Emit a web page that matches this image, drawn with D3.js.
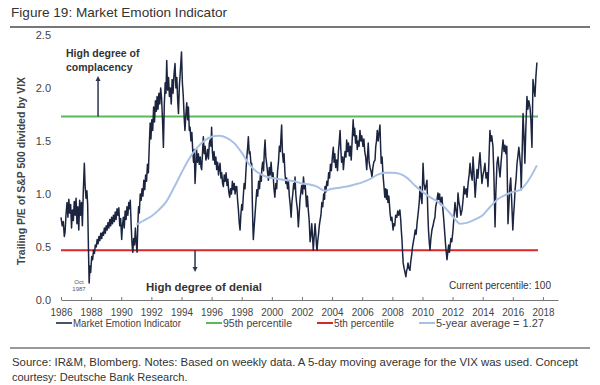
<!DOCTYPE html>
<html>
<head>
<meta charset="utf-8">
<script src="https://cdn.jsdelivr.net/npm/d3@7"></script>
<style>
    body { margin: 0; background: #fff; }
    svg { display: block; font-family: 'Liberation Sans', Arial, sans-serif; }
    .axis text { fill: #444; font-size: 11px; }
    .axis path, .axis line { stroke: #777; }
</style>
</head>
<body>
<svg class="chart" width="600" height="385"></svg>
<script>
// Weekly-ish readings of the indicator (decimal years / values)
var emotionDates = [
    1986.00, 1986.08, 1986.15, 1986.22, 1986.27, 1986.33, 1986.40, 1986.46, 1986.52, 1986.58, 1986.64, 1986.70, 1986.76, 1986.82, 1986.88, 1986.94,
    1987.00, 1987.06, 1987.12, 1987.18, 1987.24, 1987.30, 1987.36, 1987.42, 1987.48, 1987.55, 1987.60, 1987.66, 1987.72, 1987.77, 1987.82, 1987.87, 1987.92, 1987.97,
    1988.04, 1988.10, 1988.16, 1988.22, 1988.28, 1988.34, 1988.40, 1988.46, 1988.52, 1988.58, 1988.64, 1988.70, 1988.76, 1988.82, 1988.88, 1988.94,
    1989.00, 1989.06, 1989.12, 1989.18, 1989.24, 1989.30, 1989.36, 1989.42, 1989.48, 1989.54, 1989.60, 1989.66, 1989.72, 1989.78, 1989.84, 1989.90, 1989.96,
    1990.03, 1990.08, 1990.14, 1990.20, 1990.26, 1990.32, 1990.38, 1990.44, 1990.50, 1990.56, 1990.60, 1990.66, 1990.72, 1990.77, 1990.82, 1990.88, 1990.94, 1990.99,
    1991.05, 1991.10, 1991.15, 1991.20, 1991.26, 1991.32, 1991.38, 1991.44, 1991.50, 1991.56, 1991.62, 1991.68, 1991.74, 1991.80, 1991.86, 1991.92, 1991.97,
    1992.03, 1992.09, 1992.15, 1992.21, 1992.27, 1992.33, 1992.38, 1992.44, 1992.50, 1992.56, 1992.62, 1992.68, 1992.74, 1992.80, 1992.86, 1992.92, 1992.97,
    1993.02, 1993.08, 1993.14, 1993.20, 1993.26, 1993.32, 1993.38, 1993.44, 1993.50, 1993.57, 1993.63, 1993.69, 1993.75, 1993.80, 1993.86, 1993.92,
    1994.00, 1994.06, 1994.12, 1994.18, 1994.23, 1994.29, 1994.35, 1994.41, 1994.46, 1994.52, 1994.57, 1994.63, 1994.69, 1994.75, 1994.80, 1994.85, 1994.90, 1994.95,
    1995.00, 1995.06, 1995.12, 1995.18, 1995.24, 1995.30, 1995.34, 1995.40, 1995.45, 1995.51, 1995.57, 1995.62, 1995.67, 1995.73, 1995.79, 1995.85, 1995.90, 1995.96,
    1996.00, 1996.05, 1996.10, 1996.16, 1996.22, 1996.28, 1996.34, 1996.40, 1996.46, 1996.51, 1996.56, 1996.62, 1996.67, 1996.73, 1996.78, 1996.84, 1996.90, 1996.96,
    1997.02, 1997.08, 1997.14, 1997.20, 1997.26, 1997.32, 1997.38, 1997.44, 1997.50, 1997.56, 1997.62, 1997.67, 1997.72, 1997.78, 1997.84, 1997.89, 1997.94,
    1998.00, 1998.05, 1998.10, 1998.16, 1998.22, 1998.28, 1998.34, 1998.40, 1998.44, 1998.50, 1998.55, 1998.61, 1998.66, 1998.70, 1998.74, 1998.77, 1998.82, 1998.88, 1998.94,
    1999.00, 1999.06, 1999.12, 1999.18, 1999.24, 1999.30, 1999.33, 1999.39, 1999.45, 1999.50, 1999.55, 1999.60, 1999.66, 1999.72, 1999.77, 1999.83, 1999.89, 1999.95,
    2000.02, 2000.08, 2000.14, 2000.20, 2000.26, 2000.32, 2000.38, 2000.44, 2000.50, 2000.56, 2000.61, 2000.65, 2000.70, 2000.76, 2000.81, 2000.87, 2000.93, 2000.98,
    2001.04, 2001.10, 2001.16, 2001.22, 2001.28, 2001.33, 2001.39, 2001.45, 2001.50, 2001.54, 2001.59, 2001.64, 2001.70, 2001.76, 2001.81, 2001.87, 2001.93, 2001.98,
    2002.04, 2002.10, 2002.16, 2002.22, 2002.27, 2002.30, 2002.36, 2002.42, 2002.48, 2002.54, 2002.60, 2002.65, 2002.70, 2002.75, 2002.80, 2002.87, 2002.92, 2002.97,
    2003.00, 2003.05, 2003.10, 2003.15, 2003.20, 2003.26, 2003.32, 2003.38, 2003.44, 2003.50, 2003.53, 2003.59, 2003.65, 2003.71, 2003.77, 2003.83, 2003.89, 2003.95,
    2004.02, 2004.08, 2004.13, 2004.18, 2004.24, 2004.30, 2004.36, 2004.42, 2004.47, 2004.53, 2004.58, 2004.63, 2004.70, 2004.75, 2004.80, 2004.86, 2004.92, 2004.97,
    2005.03, 2005.09, 2005.15, 2005.21, 2005.27, 2005.33, 2005.40, 2005.45, 2005.50, 2005.56, 2005.62, 2005.67, 2005.73, 2005.79, 2005.85, 2005.91, 2005.97,
    2006.05, 2006.11, 2006.17, 2006.23, 2006.30, 2006.35, 2006.40, 2006.46, 2006.52, 2006.58, 2006.65, 2006.71, 2006.77, 2006.85, 2006.90, 2006.95,
    2007.00, 2007.06, 2007.12, 2007.18, 2007.22, 2007.26, 2007.32, 2007.38, 2007.44, 2007.50, 2007.56, 2007.61, 2007.65, 2007.71, 2007.77, 2007.82, 2007.85, 2007.91, 2007.97,
    2008.05, 2008.10, 2008.16, 2008.22, 2008.30, 2008.36, 2008.42, 2008.50, 2008.56, 2008.60, 2008.64, 2008.68, 2008.72, 2008.78, 2008.84, 2008.90, 2008.95,
    2009.00, 2009.04, 2009.10, 2009.17, 2009.22, 2009.28, 2009.34, 2009.40, 2009.46, 2009.52, 2009.58, 2009.64, 2009.70, 2009.76, 2009.80, 2009.84, 2009.90, 2009.97,
    2010.04, 2010.10, 2010.17, 2010.24, 2010.30, 2010.35, 2010.40, 2010.45, 2010.50, 2010.56, 2010.63, 2010.70, 2010.77, 2010.83, 2010.88, 2010.94,
    2011.03, 2011.08, 2011.14, 2011.20, 2011.25, 2011.30, 2011.36, 2011.42, 2011.47, 2011.50, 2011.56, 2011.63, 2011.68, 2011.74, 2011.79, 2011.83, 2011.89, 2011.95,
    2012.03, 2012.09, 2012.16, 2012.22, 2012.30, 2012.36, 2012.42, 2012.48, 2012.55, 2012.63, 2012.70, 2012.76, 2012.82, 2012.90, 2012.96,
    2013.03, 2013.10, 2013.16, 2013.22, 2013.30, 2013.36, 2013.42, 2013.50, 2013.56, 2013.62, 2013.68, 2013.75, 2013.82, 2013.88, 2013.95,
    2014.02, 2014.08, 2014.15, 2014.22, 2014.29, 2014.35, 2014.41, 2014.48, 2014.54, 2014.60, 2014.68, 2014.74, 2014.78, 2014.82, 2014.87, 2014.95,
    2015.02, 2015.08, 2015.15, 2015.22, 2015.28, 2015.35, 2015.42, 2015.48, 2015.54, 2015.60, 2015.64, 2015.68, 2015.74, 2015.80, 2015.86, 2015.92,
    2016.00, 2016.05, 2016.10, 2016.15, 2016.22, 2016.28, 2016.34, 2016.40, 2016.46, 2016.52, 2016.56, 2016.62, 2016.68, 2016.74, 2016.80, 2016.86, 2016.94,
    2017.00, 2017.06, 2017.14, 2017.20, 2017.27, 2017.34, 2017.40, 2017.47, 2017.53, 2017.60
];
var emotionValues = [
    0.78, 0.70, 0.74, 0.60, 0.64, 0.80, 0.92, 0.78, 0.95, 0.82, 0.90, 0.68, 0.85, 0.75, 0.93, 0.80,
    0.96, 0.72, 0.88, 0.66, 0.94, 0.80, 0.92, 0.70, 1.02, 1.29, 1.08, 0.96, 1.03, 0.90, 0.50, 0.16, 0.32, 0.26,
    0.41, 0.38, 0.47, 0.44, 0.52, 0.50, 0.57, 0.53, 0.60, 0.56, 0.63, 0.58, 0.64, 0.61, 0.68, 0.63,
    0.70, 0.66, 0.73, 0.68, 0.76, 0.70, 0.78, 0.72, 0.80, 0.74, 0.83, 0.76, 0.86, 0.80, 0.87, 0.70, 0.77,
    0.57, 0.70, 0.78, 0.68, 0.84, 0.76, 0.88, 0.80, 0.92, 0.86, 0.94, 0.70, 0.52, 0.45, 0.58, 0.52, 0.68, 0.55,
    0.45, 0.70, 0.88, 0.82, 1.00, 0.94, 1.05, 0.98, 1.13, 1.04, 1.18, 1.12, 1.28, 1.20, 1.45, 1.67, 1.52,
    1.70, 1.60, 1.82, 1.68, 1.88, 1.78, 1.92, 1.80, 1.95, 1.85, 2.00, 1.90, 1.70, 1.44, 1.85, 2.05, 1.95,
    2.26, 1.98, 2.10, 1.92, 2.00, 1.85, 2.08, 1.95, 2.12, 2.23, 2.00, 2.10, 1.88, 1.76, 2.02, 2.15,
    2.34, 2.05, 1.92, 1.72, 1.60, 1.75, 1.86, 1.70, 1.82, 1.60, 1.63, 1.50, 1.58, 1.40, 1.30, 1.42, 1.10, 1.25,
    1.42, 1.30, 1.38, 1.28, 1.35, 1.25, 1.23, 1.40, 1.54, 1.38, 1.45, 1.32, 1.35, 1.42, 1.33, 1.48, 1.51, 1.45,
    1.63, 1.40, 1.32, 1.40, 1.28, 1.35, 1.23, 1.30, 1.18, 1.25, 1.29, 1.15, 1.20, 1.10, 1.07, 1.18, 1.12, 1.20,
    1.08, 1.14, 1.02, 0.97, 1.05, 1.00, 1.12, 1.04, 1.10, 1.00, 1.07, 1.07, 0.95, 0.85, 0.72, 0.66, 0.80,
    0.90, 0.85, 0.97, 1.10, 1.05, 1.22, 1.35, 1.45, 1.54, 1.38, 1.40, 1.29, 1.29, 0.95, 0.70, 0.57, 0.68, 0.80, 0.92,
    1.04, 0.98, 1.12, 1.05, 1.18, 1.12, 1.23, 1.30, 1.22, 1.40, 1.51, 1.35, 1.28, 1.20, 1.13, 1.25, 1.18, 1.30,
    1.15, 1.20, 1.05, 0.97, 1.10, 1.05, 1.22, 1.30, 1.45, 1.40, 1.55, 1.65, 1.40, 1.30, 1.38, 1.20, 1.10, 1.15,
    1.05, 1.12, 0.98, 0.90, 0.78, 0.92, 1.00, 1.10, 1.05, 1.16, 1.00, 0.92, 0.85, 0.69, 0.80, 0.95, 1.02, 1.08,
    1.00, 1.16, 1.05, 1.08, 0.95, 0.88, 0.98, 0.85, 0.75, 0.55, 0.62, 0.72, 0.60, 0.47, 0.58, 0.72, 0.62, 0.50,
    0.47, 0.56, 0.62, 0.70, 0.75, 0.80, 0.92, 0.88, 1.00, 0.95, 1.07, 1.02, 1.12, 1.08, 1.20, 1.15, 1.28, 1.22,
    1.35, 1.44, 1.30, 1.38, 1.25, 1.32, 1.22, 1.40, 1.48, 1.60, 1.42, 1.30, 1.35, 1.23, 1.32, 1.40, 1.35, 1.51,
    1.40, 1.48, 1.36, 1.45, 1.32, 1.50, 1.70, 1.55, 1.62, 1.48, 1.55, 1.42, 1.50, 1.45, 1.60, 1.50, 1.55,
    1.45, 1.52, 1.40, 1.35, 1.23, 1.35, 1.48, 1.30, 1.25, 1.22, 1.16, 1.25, 1.30, 1.32, 1.45, 1.50,
    1.60, 1.50, 1.58, 1.65, 1.45, 1.29, 1.35, 1.18, 1.08, 0.97, 1.05, 0.95, 1.04, 0.92, 0.98, 0.88, 0.82, 0.75, 0.78,
    0.66, 0.72, 0.70, 0.80, 0.78, 0.84, 0.80, 0.85, 0.75, 0.65, 0.57, 0.45, 0.35, 0.30, 0.26, 0.22, 0.28,
    0.30, 0.35, 0.30, 0.28, 0.36, 0.42, 0.50, 0.55, 0.60, 0.66, 0.62, 0.72, 0.80, 0.88, 0.95, 1.07, 0.98, 0.91,
    1.29, 1.10, 1.04, 1.08, 1.13, 0.85, 0.66, 0.55, 0.47, 0.58, 0.66, 0.70, 0.75, 0.78, 0.88, 0.92,
    1.01, 0.95, 1.00, 0.90, 0.96, 0.97, 0.85, 0.75, 0.65, 0.59, 0.48, 0.38, 0.45, 0.52, 0.45, 0.50, 0.58, 0.55,
    0.66, 0.78, 0.92, 0.85, 0.78, 1.01, 0.92, 0.88, 0.80, 0.85, 0.95, 1.07, 1.00, 1.05, 0.97,
    1.10, 1.18, 1.29, 1.20, 1.13, 1.35, 1.20, 0.97, 1.10, 1.23, 1.15, 1.28, 1.39, 1.25, 1.10,
    1.18, 1.22, 1.29, 1.15, 1.20, 1.07, 1.30, 1.60, 1.50, 1.55, 1.45, 1.20, 0.95, 0.69, 1.00, 1.29,
    1.35, 1.25, 1.16, 1.30, 1.40, 1.51, 1.40, 1.46, 1.38, 1.45, 1.10, 0.72, 0.90, 1.07, 1.15, 0.95,
    0.66, 0.80, 0.90, 1.04, 1.15, 1.29, 1.36, 1.44, 1.35, 1.25, 1.04, 1.40, 1.76, 1.55, 1.29, 1.60, 1.92,
    1.80, 1.88, 1.82, 1.70, 1.44, 2.08, 2.00, 1.92, 2.10, 2.24
];

// 5-year average
var avgDates = [1991.0, 1991.5, 1992.0, 1992.5, 1993.0, 1993.5, 1994.0, 1994.5, 1995.0, 1995.5, 1996.0, 1996.5, 1997.0, 1997.5,
    1998.0, 1998.5, 1999.0, 1999.5, 2000.0, 2000.5, 2001.0, 2001.5, 2002.0, 2002.5, 2003.0, 2003.5, 2004.0, 2004.5,
    2005.0, 2005.5, 2006.0, 2006.5, 2007.0, 2007.5, 2008.0, 2008.5, 2009.0, 2009.5, 2010.0, 2010.5, 2011.0, 2011.5,
    2012.0, 2012.5, 2013.0, 2013.5, 2014.0, 2014.5, 2015.0, 2015.5, 2016.0, 2016.5, 2017.0, 2017.6];
var avgValues = [0.71, 0.75, 0.79, 0.85, 0.93, 1.06, 1.20, 1.33, 1.43, 1.50, 1.54, 1.55, 1.53, 1.48,
    1.39, 1.28, 1.21, 1.17, 1.15, 1.14, 1.13, 1.12, 1.10, 1.09, 1.07, 1.03, 1.05, 1.06,
    1.07, 1.09, 1.11, 1.14, 1.18, 1.20, 1.20, 1.19, 1.15, 1.08, 1.02, 0.97, 0.93, 0.87,
    0.79, 0.72, 0.73, 0.76, 0.80, 0.88, 0.95, 0.99, 1.02, 1.04, 1.12, 1.27];

var pct95 = 1.73;
var pct5 = 0.47;
var lineEnd = 2017.67;

var xTicks = [1986, 1988, 1990, 1992, 1994, 1996, 1998, 2000, 2002, 2004, 2006, 2008, 2010, 2012, 2014, 2016, 2018];
var yTicks = [0, 0.5, 1.0, 1.5, 2.0, 2.5];

var legendLabels = ['Market Emotion Indicator', '95th percentile', '5th percentile', '5-year average = 1.27'];
var legendColors = ['#4a5468', '#5cb85c', '#d9262b', '#a9c0e6'];

var svg = d3.select('.chart');

// Scales
var x = d3.scaleLinear().domain([1986, 2019]).range([61, 558]);
var y = d3.scaleLinear().domain([0, 2.5]).range([300, 35]);

// Title + rules
svg.append('text').attr('x', 11).attr('y', 17)
    .attr('font-size', 13.5).attr('fill', '#333')
    .attr('textLength', 216).attr('lengthAdjust', 'spacingAndGlyphs')
    .text('Figure 19: Market Emotion Indicator');
svg.append('line').attr('x1', 10).attr('x2', 590).attr('y1', 27).attr('y2', 27)
    .attr('stroke', '#777').attr('stroke-width', 2);
svg.append('line').attr('x1', 10).attr('x2', 590).attr('y1', 348).attr('y2', 348)
    .attr('stroke', '#777').attr('stroke-width', 1.5);

// Axes
var xAxis = svg.append('g').attr('class', 'x axis')
    .attr('transform', 'translate(0,300)')
    .call(d3.axisBottom(x).tickValues(xTicks).tickFormat(d3.format('d'))
        .tickSizeInner(-3).tickSizeOuter(0).tickPadding(8));
xAxis.selectAll('text').attr('textLength', 22).attr('lengthAdjust', 'spacingAndGlyphs');

var yAxis = svg.append('g').attr('class', 'y axis')
    .attr('transform', 'translate(51,0)')
    .call(d3.axisLeft(y).tickValues(yTicks).tickFormat(d3.format('.1f')).tickSize(0).tickPadding(0));
yAxis.select('.domain').remove();

// Y axis title
svg.append('text')
    .attr('transform', 'translate(25,171) rotate(-90)')
    .attr('text-anchor', 'middle')
    .attr('font-size', 11).attr('font-weight', 'bold').attr('fill', '#444')
    .attr('textLength', 188).attr('lengthAdjust', 'spacingAndGlyphs')
    .text('Trailing P/E of S&P 500 divided by VIX');

// Percentile lines
svg.append('line').attr('x1', x(1986)).attr('x2', x(lineEnd)).attr('y1', y(pct95)).attr('y2', y(pct95))
    .attr('stroke', legendColors[1]).attr('stroke-width', 2);
svg.append('line').attr('x1', x(1986)).attr('x2', x(lineEnd)).attr('y1', y(pct5)).attr('y2', y(pct5))
    .attr('stroke', legendColors[2]).attr('stroke-width', 2);

// Main line
var emotion = emotionDates.map(function (d, i) { return { date: d, value: emotionValues[i] }; });
var avg = avgDates.map(function (d, i) { return { date: d, value: avgValues[i] }; });

var line = d3.line()
    .x(function (d) { return x(d.date); })
    .y(function (d) { return y(d.value); });

svg.append('path').datum(emotion)
    .attr('fill', 'none').attr('stroke', '#1c2540').attr('stroke-width', 1.5)
    .attr('stroke-linejoin', 'round')
    .attr('d', line);

svg.append('path').datum(avg)
    .attr('fill', 'none').attr('stroke', legendColors[3]).attr('stroke-width', 2)
    .attr('d', line.curve(d3.curveMonotoneX));

// Annotations
var note = svg.append('g').attr('font-size', 10.5).attr('font-weight', 'bold').attr('fill', '#333');
note.append('text').attr('x', 66).attr('y', 57).text('High degree of');
note.append('text').attr('x', 66).attr('y', 71).text('complacency');
note.append('text').attr('x', 146).attr('y', 291).attr('textLength', 116).attr('lengthAdjust', 'spacingAndGlyphs')
    .text('High degree of denial');

function arrow(xp, y1, y2) {
    var dir = y2 < y1 ? 1 : -1;
    svg.append('line').attr('x1', xp).attr('x2', xp).attr('y1', y1).attr('y2', y2 + dir * 4)
        .attr('stroke', '#2a3550').attr('stroke-width', 1.5);
    svg.append('path')
        .attr('d', 'M' + (xp - 2.5) + ',' + (y2 + dir * 5) + 'L' + xp + ',' + y2 + 'L' + (xp + 2.5) + ',' + (y2 + dir * 5) + 'Z')
        .attr('fill', '#2a3550');
}
arrow(x(1988.46), y(pct95), 76);
arrow(x(1994.9), y(pct5), 272);

svg.append('text').attr('x', 551).attr('y', 289).attr('text-anchor', 'end')
    .attr('font-size', 11).attr('fill', '#333')
    .attr('textLength', 102).attr('lengthAdjust', 'spacingAndGlyphs')
    .text('Current percentile: 100');

svg.append('text').attr('x', 79).attr('y', 284).attr('text-anchor', 'middle')
    .attr('font-size', 6).attr('fill', '#555').text('Oct');
svg.append('text').attr('x', 79).attr('y', 291).attr('text-anchor', 'middle')
    .attr('font-size', 6).attr('fill', '#555').text('1987');

// Legend
var legendText = [108, 69, 60, 108];
var legend = svg.append('g').attr('font-size', 11).attr('fill', '#444');
var items = legendLabels.map(function (label, i) {
    var g = legend.append('g');
    g.append('line').attr('x1', 0).attr('x2', 16).attr('y1', 0).attr('y2', 0)
        .attr('stroke', legendColors[i]).attr('stroke-width', 2);
    g.append('text').attr('x', 17).attr('y', 4)
        .attr('textLength', legendText[i]).attr('lengthAdjust', 'spacingAndGlyphs')
        .text(label);
    return { g: g, w: 17 + legendText[i] };
});
var gap = 25;
var total = d3.sum(items, function (d) { return d.w; }) + gap * (items.length - 1);
var lx = 300 - total / 2;
items.forEach(function (it) {
    it.g.attr('transform', 'translate(' + lx + ',323)');
    lx += it.w + gap;
});

// Source
var src = svg.append('g').attr('font-size', 11).attr('fill', '#333');
src.append('text').attr('x', 12).attr('y', 366)
    .attr('textLength', 566).attr('lengthAdjust', 'spacingAndGlyphs')
    .text('Source: IR&M, Blomberg. Notes: Based on weekly data. A 5-day moving average for the VIX was used. Concept');
src.append('text').attr('x', 12).attr('y', 381).text('courtesy: Deutsche Bank Research.');
</script>
</body>
</html>
